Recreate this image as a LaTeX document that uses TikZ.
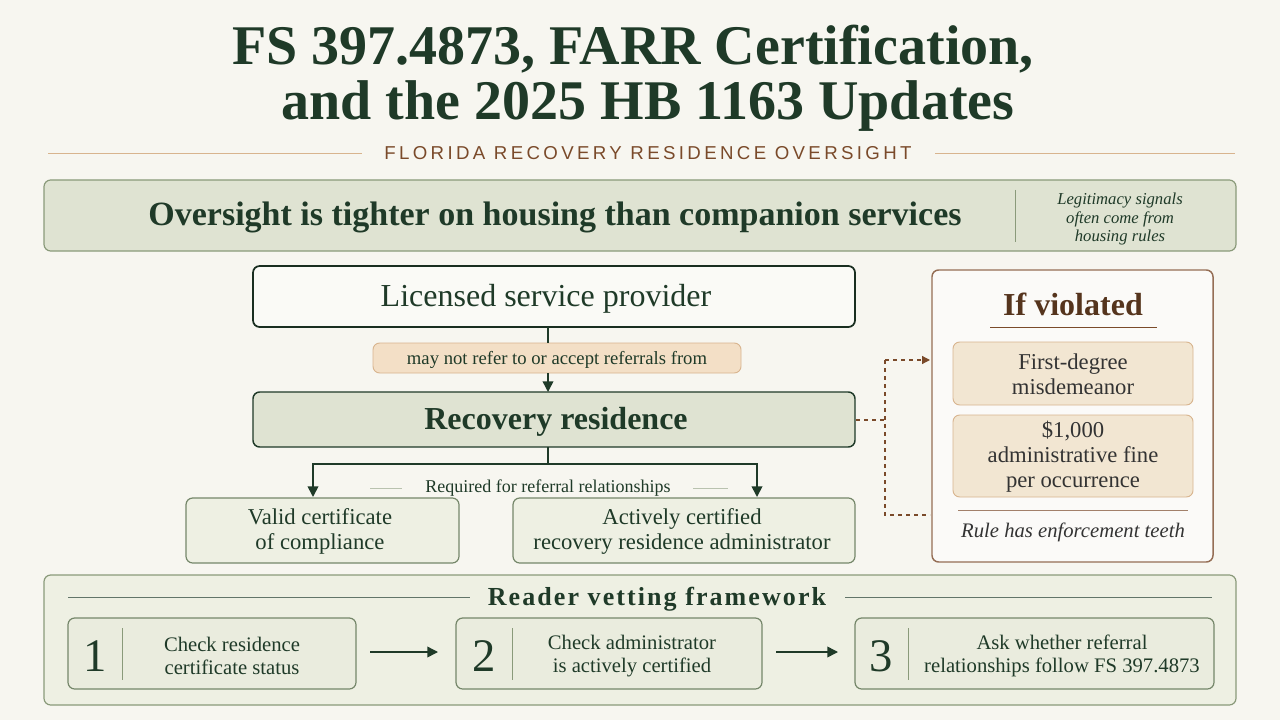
\documentclass[tikz,border=0pt]{standalone}
\usepackage{fontspec}
\setmainfont{Liberation Serif}
\newfontfamily\subsans[LetterSpace=18]{Liberation Sans}
\usetikzlibrary{arrows.meta}
\definecolor{bg}{HTML}{F7F6F0}
\definecolor{dg}{HTML}{1F3A28}
\definecolor{br}{HTML}{7A4A2A}
\definecolor{gfill}{HTML}{DFE3D2}
\definecolor{lfill}{HTML}{EEF0E3}
\definecolor{gb}{HTML}{8A9A7A}
\definecolor{pfill}{HTML}{F3DFC6}
\definecolor{pb}{HTML}{D8B48E}
\definecolor{tan}{HTML}{F2E6D2}
\begin{document}
\begin{tikzpicture}[x=0.75pt,y=-0.75pt,
 fs/.style={font=\fontsize{#1}{\fpeval{#1*1.1}}\selectfont},
 box/.style={draw=#1,rounded corners=5pt,line width=0.9pt},
 tx/.style={text=dg,align=center,inner sep=0},
 arr/.style={-{Triangle[length=8pt,width=8pt]},draw=dg,line width=1.1pt}]
\fill[bg] (0,0) rectangle (1280,720);
\useasboundingbox (0,0) rectangle (1280,720);
% title
\node[tx,fs=42] (t1) at (633,49) {\bfseries FS 397.4873, FARR Certification,};
\node[tx,fs=42] (t2) at (648,106) {\bfseries and the 2025 HB 1163 Updates};
\draw[pb,line width=0.6pt] (48,153) -- (362,153) (935,153) -- (1235,153);
\node[text=br,inner sep=0,font=\subsans\fontsize{14}{16}\selectfont] (sub) at (648,153) {FLORIDA RECOVERY RESIDENCE OVERSIGHT};
% banner
\draw[box=gb,fill=gfill] (44,180) rectangle (1236,251);
\node[tx,fs=25.5] (ban) at (555,217) {\bfseries Oversight is tighter on housing than companion services};
\draw[gb] (1015,190) -- (1015,242);
\node[tx,fs=12.5] (leg) at (1120,219) {\itshape Legitimacy signals\\\itshape often come from\\\itshape housing rules};
% flow
\draw[box=dg!80!black,fill=bg!60!white,line width=1.3pt] (253,266) rectangle (855,327);
\node[tx,fs=24] (lic) at (546,299) {Licensed service provider};
\draw[box=pb,fill=pfill,line width=0.7pt] (373,343) rectangle (741,373);
\node[tx,fs=14] (lab) at (557,360) {may not refer to or accept referrals from};
\draw[box=dg,fill=gfill,line width=1.1pt] (253,392) rectangle (855,447);
\node[tx,fs=24] (rec) at (556,422) {\bfseries Recovery residence};
\coordinate (ltop) at (548,327); \coordinate (rtop) at (548,392);
\draw[dg,line width=1.1pt] (ltop) -- (548,343);
\draw[arr] (548,373) -- (rtop);
\coordinate (rbot) at (548,447);
\draw[dg,line width=1.3pt] (rbot) -- (548,464) -- (313,464);
\draw[dg,line width=1.3pt] (548,464) -- (757,464);
\draw[arr,line width=1.3pt] (313,463.3) -- (313,497);
\draw[arr,line width=1.3pt] (757,463.3) -- (757,497);
\node[tx,fs=13.5] (req) at (548,488) {Required for referral relationships};
\draw[gb!60,line width=0.6pt] (370,488) -- (402,488) (693,488) -- (728,488);
\draw[box=gb!80!dg,fill=lfill] (186,498) rectangle (459,563);
\node[tx,fs=17] (val) at (320,531) {Valid certificate\\of compliance};
\draw[box=gb!80!dg,fill=lfill] (513,498) rectangle (855,563);
\node[tx,fs=17] (act) at (682,531) {Actively certified\\recovery residence administrator};
% dashed
\draw[br,dashed,line width=0.9pt] (856,420) -- (885,420);
\draw[br,dashed,line width=0.9pt] (885,360) -- (885,515) -- (930,515);
\draw[br,dashed,line width=0.9pt,-{Triangle[length=6pt,width=6pt]}] (885,360) -- (930,360);
% right panel
\draw[box=br!80,fill=bg!50!white,line width=1.1pt] (932,270) rectangle (1213,562);
\node[text=br!70!black,inner sep=0,fs=24] (iv) at (1073,304) {\bfseries If violated};
\draw[br,line width=0.7pt] (990,327) -- (1157,327);
\draw[box=pb,fill=tan,line width=0.7pt] (953,342) rectangle (1193,405);
\node[text=black!80,inner sep=0,align=center,fs=17] (fd) at (1073,374) {First-degree\\misdemeanor};
\draw[box=pb,fill=tan,line width=0.7pt] (953,415) rectangle (1193,497);
\node[text=black!80,inner sep=0,align=center,fs=17] (fine) at (1073,457) {\$1,000\\administrative fine\\per occurrence};
\draw[br!70,line width=0.6pt] (958,510) -- (1188,510);
\node[text=black!80,inner sep=0,fs=15.5] (teeth) at (1073,532) {\itshape Rule has enforcement teeth};
% bottom panel
\draw[box=gb,fill=lfill] (44,575) rectangle (1236,705);
\node[tx,fs=19.5] (rv) at (657,599) {\addfontfeatures{LetterSpace=8}\bfseries Reader vetting framework};
\draw[dg!70,line width=0.7pt] (68,597) -- (470,597) (845,597) -- (1212,597);
\foreach \a/\b/\n/\d/\c/\t in {68/356/1/122/232/{Check residence\\certificate status},456/762/2/512/632/{Check administrator\\is actively certified},855/1214/3/908/1062/{Ask whether referral\\relationships follow FS 397.4873}}{
  \draw[box=gb!80!dg,fill=lfill!70!gfill] (\a,618) rectangle (\b,689);
  \node[tx,fs=35] (n\n) at ({(\a+\d)/2},656) {\n};
  \draw[gb] (\d,628) -- (\d,680);
  \node[tx,fs=15.5] (s\n) at (\c,656) {\t};
}
\draw[arr] (370,652) -- (438,652);
\draw[arr] (776,652) -- (838,652);
\end{tikzpicture}
\end{document}
